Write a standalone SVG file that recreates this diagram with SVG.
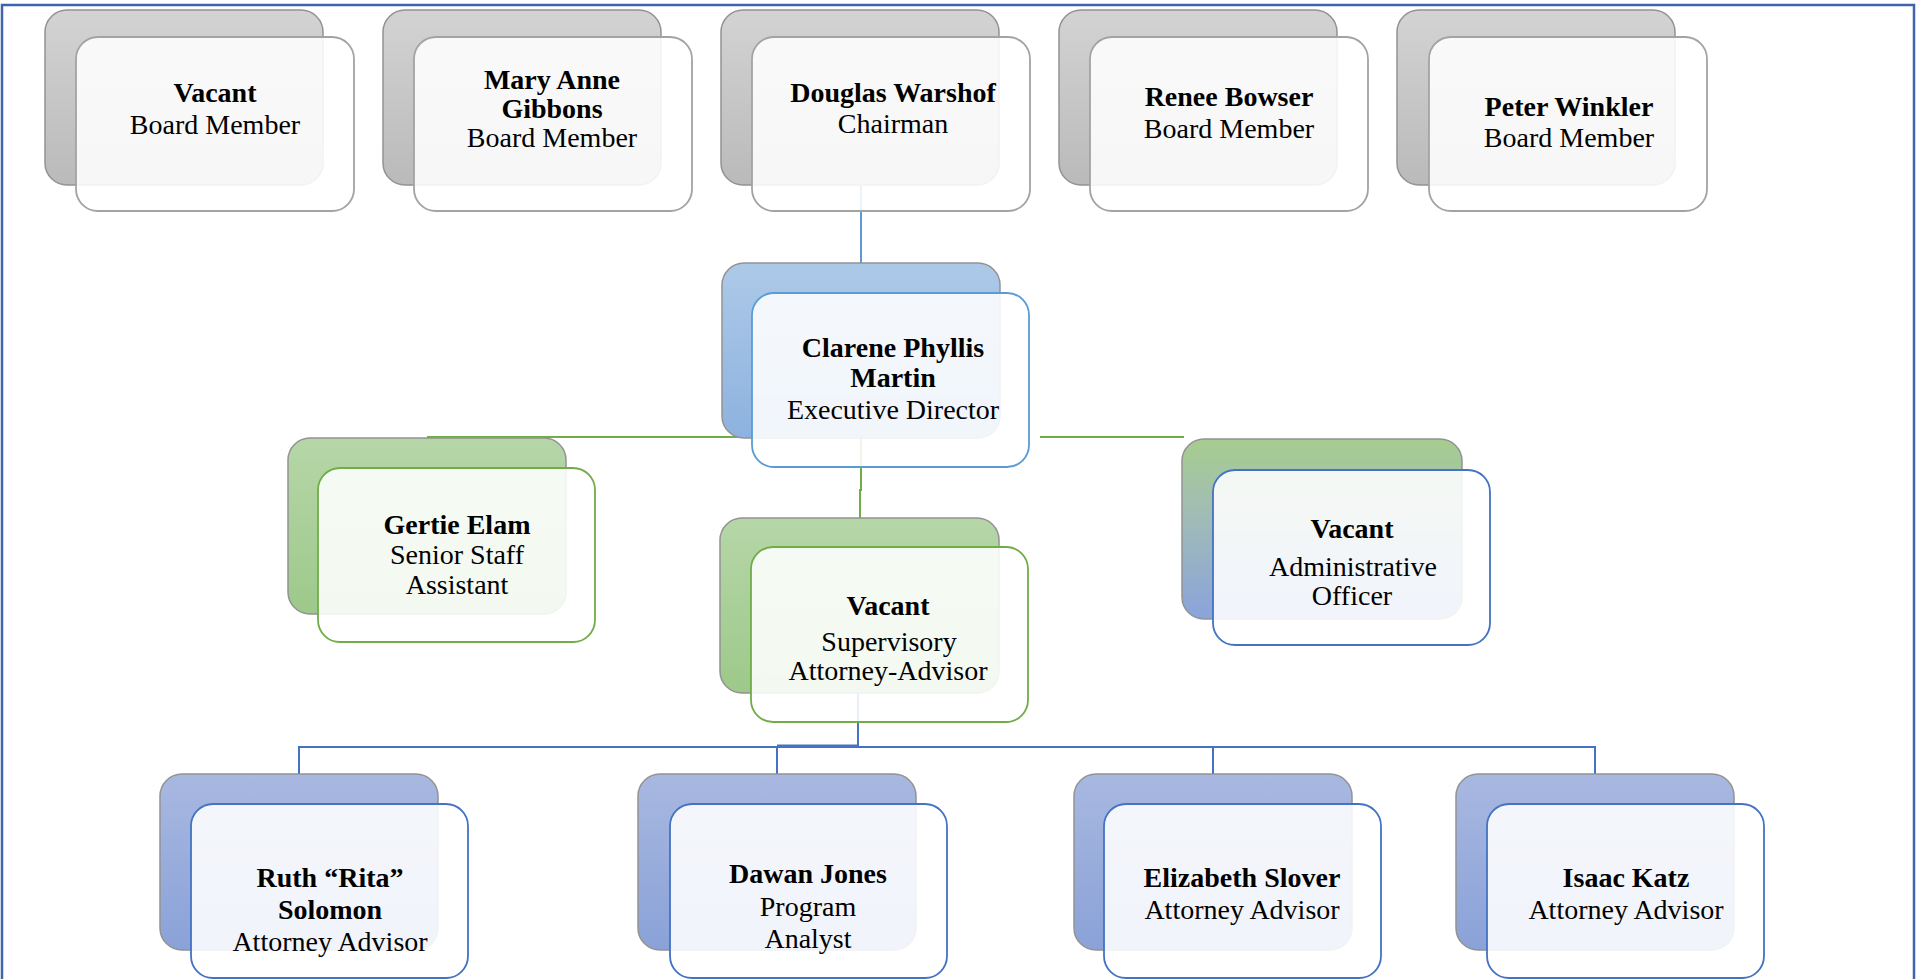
<svg xmlns="http://www.w3.org/2000/svg" width="1920" height="979" viewBox="0 0 1920 979">
<style>
text{font-family:"Liberation Serif","Times New Roman",serif;font-size:28px;fill:#000;text-anchor:middle}
.n{font-weight:bold}
.b{stroke:#939393;stroke-width:1.5}
.f{fill:#fff;fill-opacity:0.88;stroke-width:1.8}
.fg{stroke:#a3a3a3}
.fb{stroke:#5b9bd5}
.fgr{stroke:#70ad47}
.fd{stroke:#4472c4}
.c{fill:none;stroke-width:2}
</style>
<defs>
<linearGradient id="gGray" x1="0" y1="0" x2="0" y2="1"><stop offset="0" stop-color="#d3d3d3"/><stop offset="1" stop-color="#bababa"/></linearGradient>
<linearGradient id="gBlue" x1="0" y1="0" x2="0" y2="1"><stop offset="0" stop-color="#adc9e8"/><stop offset="1" stop-color="#8db2df"/></linearGradient>
<linearGradient id="gGreen" x1="0" y1="0" x2="0" y2="1"><stop offset="0" stop-color="#b6d6a8"/><stop offset="1" stop-color="#9dc98a"/></linearGradient>
<linearGradient id="gMix" x1="0" y1="0" x2="0" y2="1"><stop offset="0" stop-color="#a6cd8e"/><stop offset="0.35" stop-color="#a3bfb0"/><stop offset="1" stop-color="#8aa3dc"/></linearGradient>
<linearGradient id="gBot" x1="0" y1="0" x2="0" y2="1"><stop offset="0" stop-color="#a8b8e0"/><stop offset="1" stop-color="#8aa2d8"/></linearGradient>
</defs>
<rect x="0" y="0" width="1920" height="979" fill="#fff"/>
<rect x="2" y="5" width="1912" height="1000" fill="none" stroke="#3f63ae" stroke-width="2.5"/>
<g id="connectors">
<line class="c" x1="861" y1="186" x2="861" y2="263" stroke="#5b9bd5"/>
<line class="c" x1="427" y1="437" x2="740" y2="437" stroke="#70ad47"/>
<line class="c" x1="1040" y1="437" x2="1184" y2="437" stroke="#70ad47"/>
<path class="c" d="M861 438 V490 H860 V518" stroke="#70ad47"/>
<line class="c" x1="858" y1="693" x2="858" y2="747" stroke="#4472c4"/>
<path class="c" d="M299 774 V747 H1595 V774" stroke="#4472c4"/>
<line class="c" x1="777" y1="747" x2="777" y2="774" stroke="#4472c4"/>
<line class="c" x1="1213" y1="747" x2="1213" y2="774" stroke="#4472c4"/>
<line class="c" x1="777" y1="745.5" x2="858" y2="745.5" stroke="#4472c4"/>
</g>
<g id="node-vacant-board">
<rect class="b" x="45" y="10" width="278" height="175" rx="22" fill="url(#gGray)"/>
<rect class="f fg" x="76" y="37" width="278" height="174" rx="22"/>
<text class="n" x="215" y="102">Vacant</text>
<text x="215" y="134">Board Member</text>
</g>
<g id="node-gibbons">
<rect class="b" x="383" y="10" width="278" height="175" rx="22" fill="url(#gGray)"/>
<rect class="f fg" x="414" y="37" width="278" height="174" rx="22"/>
<text class="n" x="552" y="89">Mary Anne</text>
<text class="n" x="552" y="118">Gibbons</text>
<text x="552" y="147">Board Member</text>
</g>
<g id="node-warshof">
<rect class="b" x="721" y="10" width="278" height="175" rx="22" fill="url(#gGray)"/>
<rect class="f fg" x="752" y="37" width="278" height="174" rx="22"/>
<text class="n" x="893" y="102">Douglas Warshof</text>
<text x="893" y="133">Chairman</text>
</g>
<g id="node-bowser">
<rect class="b" x="1059" y="10" width="278" height="175" rx="22" fill="url(#gGray)"/>
<rect class="f fg" x="1090" y="37" width="278" height="174" rx="22"/>
<text class="n" x="1229" y="106">Renee Bowser</text>
<text x="1229" y="138">Board Member</text>
</g>
<g id="node-winkler">
<rect class="b" x="1397" y="10" width="278" height="175" rx="22" fill="url(#gGray)"/>
<rect class="f fg" x="1429" y="37" width="278" height="174" rx="22"/>
<text class="n" x="1569" y="116">Peter Winkler</text>
<text x="1569" y="147">Board Member</text>
</g>
<g id="node-martin">
<rect class="b" x="722" y="263" width="278" height="175" rx="22" fill="url(#gBlue)"/>
<rect class="f fb" x="752" y="293" width="277" height="174" rx="22"/>
<text class="n" x="893" y="357">Clarene Phyllis</text>
<text class="n" x="893" y="387">Martin</text>
<text x="893" y="419">Executive Director</text>
</g>
<g id="node-elam">
<rect class="b" x="288" y="438" width="278" height="176" rx="22" fill="url(#gGreen)"/>
<rect class="f fgr" x="318" y="468" width="277" height="174" rx="22"/>
<text class="n" x="457" y="534">Gertie Elam</text>
<text x="457" y="564">Senior Staff</text>
<text x="457" y="594">Assistant</text>
</g>
<g id="node-supervisory">
<rect class="b" x="720" y="518" width="279" height="175" rx="22" fill="url(#gGreen)"/>
<rect class="f fgr" x="751" y="547" width="277" height="175" rx="22"/>
<text class="n" x="888" y="615">Vacant</text>
<text x="889" y="651">Supervisory</text>
<text x="888" y="680">Attorney-Advisor</text>
</g>
<g id="node-admin">
<rect class="b" x="1182" y="439" width="280" height="180" rx="22" fill="url(#gMix)"/>
<rect class="f fd" x="1213" y="470" width="277" height="175" rx="22"/>
<text class="n" x="1352" y="538">Vacant</text>
<text x="1353" y="576">Administrative</text>
<text x="1352" y="605">Officer</text>
</g>
<g id="node-solomon">
<rect class="b" x="160" y="774" width="278" height="176" rx="22" fill="url(#gBot)"/>
<rect class="f fd" x="191" y="804" width="277" height="174" rx="22"/>
<text class="n" x="330" y="887">Ruth “Rita”</text>
<text class="n" x="330" y="919">Solomon</text>
<text x="330" y="951">Attorney Advisor</text>
</g>
<g id="node-jones">
<rect class="b" x="638" y="774" width="278" height="176" rx="22" fill="url(#gBot)"/>
<rect class="f fd" x="670" y="804" width="277" height="174" rx="22"/>
<text class="n" x="808" y="883">Dawan Jones</text>
<text x="808" y="916">Program</text>
<text x="808" y="948">Analyst</text>
</g>
<g id="node-slover">
<rect class="b" x="1074" y="774" width="278" height="176" rx="22" fill="url(#gBot)"/>
<rect class="f fd" x="1104" y="804" width="277" height="174" rx="22"/>
<text class="n" x="1242" y="887">Elizabeth Slover</text>
<text x="1242" y="919">Attorney Advisor</text>
</g>
<g id="node-katz">
<rect class="b" x="1456" y="774" width="278" height="176" rx="22" fill="url(#gBot)"/>
<rect class="f fd" x="1487" y="804" width="277" height="174" rx="22"/>
<text class="n" x="1626" y="887">Isaac Katz</text>
<text x="1626" y="919">Attorney Advisor</text>
</g>
</svg>
